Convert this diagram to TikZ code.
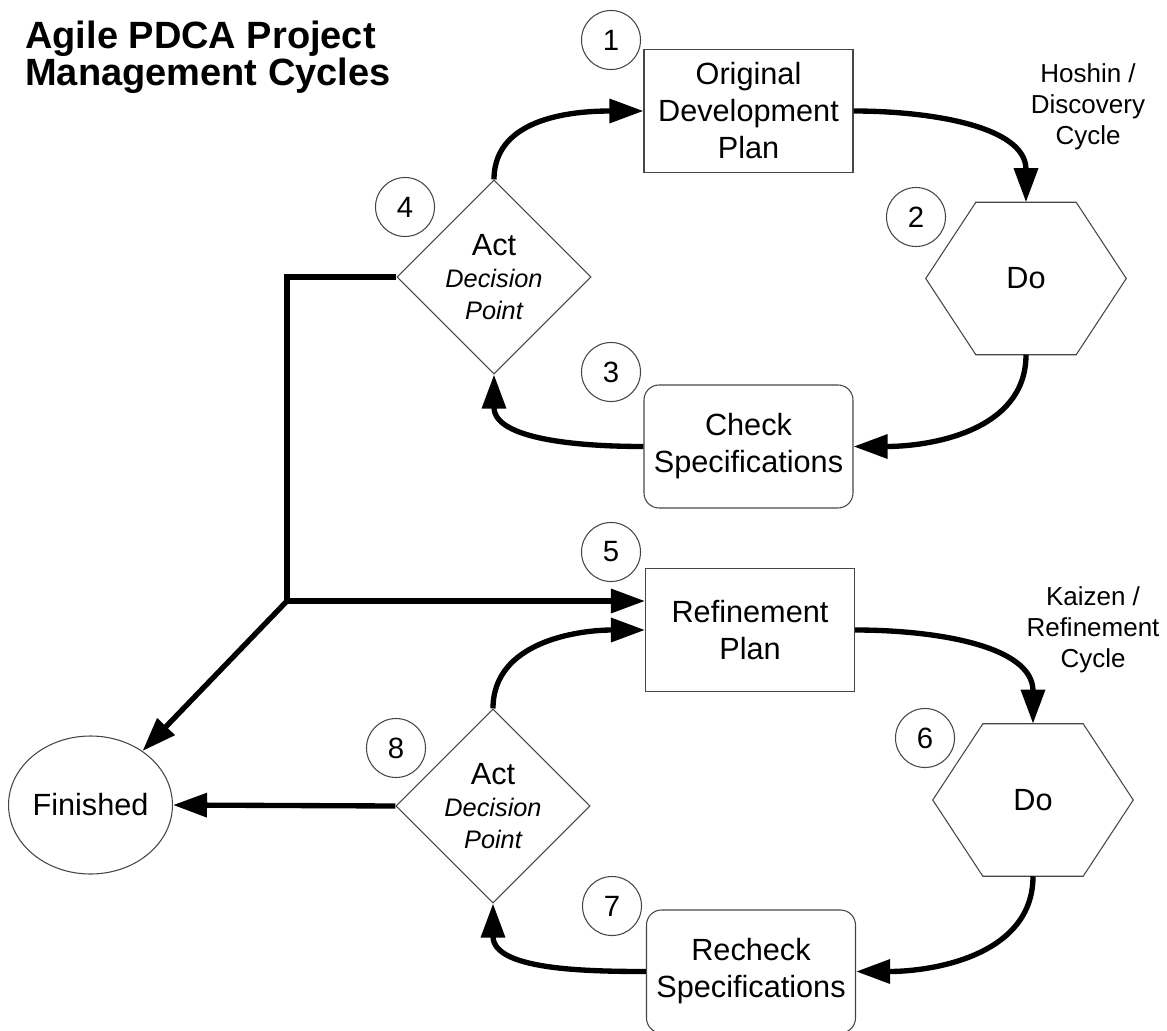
\documentclass[tikz,border=0pt]{standalone}
\usepackage{fontspec}
\setmainfont{Liberation Sans}
\usetikzlibrary{arrows.meta,shapes.geometric,calc}
\definecolor{pdcaedge}{RGB}{70,70,70}
\definecolor{pdcaflow}{RGB}{0,0,0}
\newcommand\pdcamain{\fontsize{23pt}{27.75pt}\selectfont}
\newcommand\pdcaact{\fontsize{23pt}{24pt}\selectfont}
\newcommand\pdcasmall{\fontsize{19pt}{24pt}\selectfont\itshape}
\newcommand\pdcanote{\fontsize{19.5pt}{23.25pt}\selectfont}

\begin{document}
\begin{tikzpicture}[x=0.75pt,y=-0.75pt,
  pdcabox/.style={draw=pdcaedge,line width=0.8pt,minimum width=156.75pt,minimum height=92.25pt,inner sep=0pt,align=center,font=\pdcamain},
  pdcaround/.style={pdcabox,rounded corners=11.25pt},
  pdcadiam/.style={draw=pdcaedge,line width=0.8pt,diamond,minimum width=145.5pt,minimum height=145.5pt,inner sep=0pt,align=center,font=\pdcaact},
  pdcahex/.style={minimum width=150pt,minimum height=114pt,inner sep=0pt,font=\pdcamain},
  hexline/.style={draw=pdcaedge,line width=0.8pt,line join=miter},
  pdcanum/.style={draw=pdcaedge,line width=0.8pt,circle,minimum size=44.25pt,inner sep=0pt,font=\fontsize{22pt}{24pt}\selectfont},
  pdcaend/.style={draw=pdcaedge,line width=0.8pt,ellipse,minimum width=117.75pt,minimum height=103.5pt,inner sep=0pt,font=\pdcamain},
  pdcatext/.style={align=center,inner sep=0pt,font=\pdcanote},
  flow/.style={draw=pdcaflow,line width=4pt,-{Triangle[length=25.5pt,width=17.5pt]}},
  trunk/.style={draw=pdcaflow,line width=4pt}]
  \useasboundingbox (0,0) rectangle (1167,1031);

  \node[anchor=west,align=left,inner sep=0pt,font=\fontsize{28.5pt}{27.75pt}\selectfont\bfseries] (title) at (25,57) {Agile PDCA Project\\Management Cycles};

  \node[pdcabox] (plan1) at (748.5,111) {Original\\Development\\Plan};
  \node[pdcahex] (do1) at (1026,278.5) {Do};
  \node[pdcaround] (check1) at (748.5,446.5) {Check\\Specifications};
  \node[pdcadiam] (act1) at (494,277) {Act\\{\pdcasmall Decision}\\{\pdcasmall Point}};

  \node[pdcabox] (plan2) at (750,630) {Refinement\\Plan};
  \node[pdcahex] (do2) at (1033,800) {Do};
  \node[pdcaround] (check2) at (751,971.5) {Recheck\\Specifications};
  \node[pdcadiam] (act2) at (493,806) {Act\\{\pdcasmall Decision}\\{\pdcasmall Point}};

  \node[pdcaend] (fin) at (90.5,805) {Finished};

  \node[pdcatext] (hoshin) at (1088,107) {Hoshin /\\Discovery\\Cycle};
  \node[pdcatext] (kaizen) at (1093,630) {Kaizen /\\Refinement\\Cycle};

  \foreach \n in {do1,do2}
    \draw[hexline] (\n.west) -- ($(\n.north west)!.25!(\n.north east)$) -- ($(\n.north west)!.75!(\n.north east)$)
      -- (\n.east) -- ($(\n.south west)!.75!(\n.south east)$) -- ($(\n.south west)!.25!(\n.south east)$) -- cycle;

  \node[pdcanum] (n1) at (611,40) {1};
  \node[pdcanum] (n2) at (916,217) {2};
  \node[pdcanum] (n3) at (611,372) {3};
  \node[pdcanum] (n4) at (405,207) {4};
  \node[pdcanum] (n5) at (611,552) {5};
  \node[pdcanum] (n6) at (925,738) {6};
  \node[pdcanum] (n7) at (612,906) {7};
  \node[pdcanum] (n8) at (396,748) {8};

  \draw[flow] (act1.north) to[out=90,in=180] (plan1.west);
  \draw[flow] (plan1.east) to[out=0,in=90] (do1.north);
  \draw[flow] (do1.south) to[out=270,in=0] (check1.east);
  \draw[flow] (check1.west) to[out=180,in=270] (act1.south);

  \draw[flow] (act2.north) to[out=90,in=180] (plan2.west);
  \draw[flow] (plan2.east) to[out=0,in=90] (do2.north);
  \draw[flow] (do2.south) to[out=270,in=0] (check2.east);
  \draw[flow] (check2.west) to[out=180,in=270] (act2.south);

  \coordinate (split) at (287,601);
  \draw[trunk] (act1.west) -| (split);
  \draw[flow] (split) -- (split -| plan2.west);
  \draw[flow] (split) -- (fin);
  \draw[flow] (act2.west) -- (fin.east);
\end{tikzpicture}
\end{document}
